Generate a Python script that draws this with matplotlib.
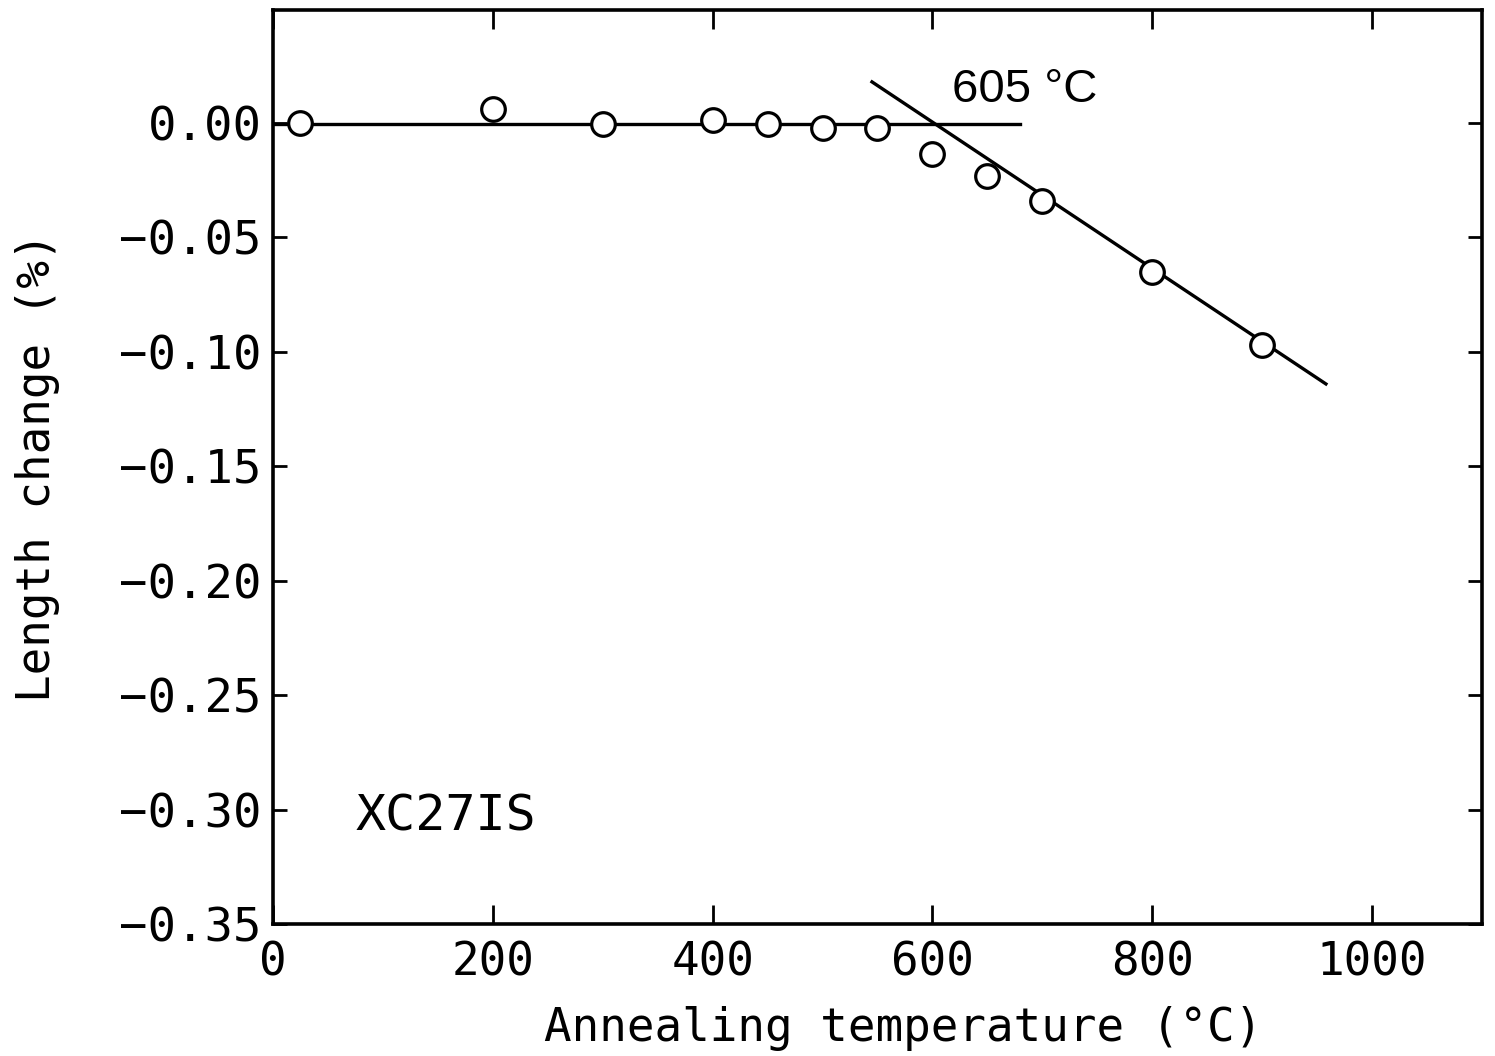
import matplotlib.pyplot as plt

# measured points: annealing temperature (C) vs length change (%)
temps = [25, 200, 300, 400, 450, 500, 550, 600, 650, 700, 800, 900]
length_change = [0.000, 0.006, -0.0005, 0.0013, -0.0005, -0.002, -0.002,
                 -0.0135, -0.023, -0.034, -0.065, -0.097]

# fitted lines
flat_x = [0, 680]
flat_y = [-0.0005, -0.0005]
slope_x = [545, 958]
slope_y = [0.018, -0.114]

x_ticks = [0, 200, 400, 600, 800, 1000]
y_ticks = [0.00, -0.05, -0.10, -0.15, -0.20, -0.25, -0.30, -0.35]

mono = 'DejaVu Sans Mono'

fig = plt.figure(figsize=(14.95, 10.56), dpi=100)
ax = fig.add_axes([0.1826, 0.125, 0.8087, 0.8655])

ax.plot(flat_x, flat_y, color='black', lw=2.4, zorder=2)
ax.plot(slope_x, slope_y, color='black', lw=2.4, zorder=2)
ax.plot(temps, length_change, 'o', ms=17, mfc='white', mec='black', mew=2.3, zorder=3)

ax.set_xlim(0, 1100)
ax.set_ylim(-0.35, 0.0494)
ax.set_xticks(x_ticks)
ax.set_yticks(y_ticks)
ax.set_xticklabels([str(t) for t in x_ticks], fontfamily=mono, fontsize=33)
ax.set_yticklabels([('%.2f' % v).replace('-', '\u2212') for v in y_ticks],
                   fontfamily=mono, fontsize=34)

ax.tick_params(axis='x', direction='in', length=14, width=2, top=True, pad=12)
ax.tick_params(axis='y', direction='in', length=10, width=2, right=True, pad=8)
for s in ax.spines.values():
    s.set_linewidth(2.6)

ax.set_xlabel('Annealing temperature (°C)', fontfamily=mono, fontsize=33, va='top')
ax.xaxis.set_label_coords(0.521, -0.09)
ax.set_ylabel('Length change (%)', fontfamily=mono, fontsize=33)
ax.yaxis.set_label_coords(-0.176, 0.5)

ax.text(618, 0.0092, '605 °C', fontfamily='Liberation Sans', fontsize=34,
        ha='left', va='baseline')
ax.text(75, -0.309, 'XC27IS', fontfamily=mono, fontsize=36, ha='left', va='baseline')

plt.savefig('out.png', dpi=100)
